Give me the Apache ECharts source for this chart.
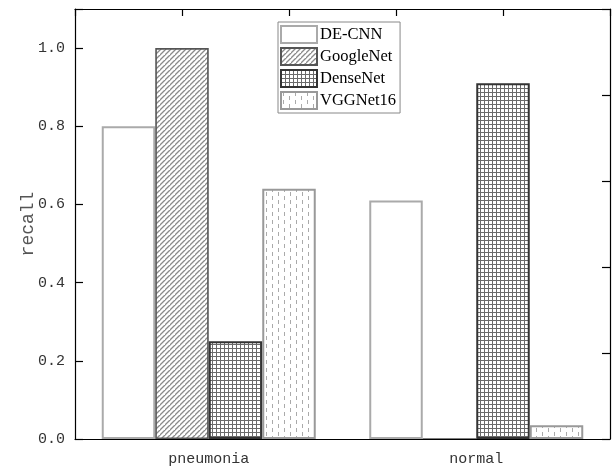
<!DOCTYPE html>
<html>
<head>
<meta charset="utf-8">
<script src="https://cdn.jsdelivr.net/npm/echarts@6/dist/echarts.min.js"></script>
<style>html,body{margin:0;padding:0;background:#fff;}#c{width:614px;height:470px;}</style>
</head>
<body>
<div id="c"></div>
<script>
var categories = ['pneumonia', 'normal'];
var seriesNames = ['DE-CNN', 'GoogleNet', 'DenseNet', 'VGGNet16'];
var deCnn = [0.80, 0.61];
var googleNet = [1.00, 0.0];
var denseNet = [0.25, 0.91];
var vggNet16 = [0.64, 0.035];
var yTicks = [0, 0.2, 0.4, 0.6, 0.8, 1.0];

function makePattern(w, h, draw) {
  var c = document.createElement('canvas');
  c.width = w; c.height = h;
  var ctx = c.getContext('2d');
  ctx.fillStyle = '#fff';
  ctx.fillRect(0, 0, w, h);
  draw(ctx, w, h);
  return { image: c, repeat: 'repeat' };
}
var hatch = makePattern(5, 5, function (ctx, w, h) {
  ctx.strokeStyle = '#8a8a8a';
  ctx.lineWidth = 1.3;
  ctx.beginPath();
  ctx.moveTo(-1, h + 1); ctx.lineTo(w + 1, -1);
  ctx.moveTo(-1 - w, h + 1); ctx.lineTo(1, -1);
  ctx.moveTo(w - 1, 2 * h + 1); ctx.lineTo(2 * w + 1, h - 1);
  ctx.stroke();
});
var grid = makePattern(4, 4, function (ctx, w, h) {
  ctx.fillStyle = '#6a6a6a';
  ctx.fillRect(0, 0, 1, h);
  ctx.fillRect(0, 0, w, 1);
});
var dots = makePattern(12, 8, function (ctx, w, h) {
  ctx.fillStyle = '#aaaaaa';
  ctx.fillRect(2, 0, 1, 4);
  ctx.fillRect(8, 4, 1, 4);
});

var chart = echarts.init(document.getElementById('c'), null, { renderer: 'canvas' });
var lineStyle = { color: '#000', width: 1.2 };
chart.setOption({
  animation: false,
  backgroundColor: '#fff',
  grid: { left: 75, right: 4, top: 9, bottom: 31, containLabel: false },
  legend: {
    orient: 'vertical',
    left: 278, top: 22,
    itemWidth: 36, itemHeight: 17, itemGap: 3,
    padding: [3, 4, 3, 2],
    borderColor: '#888', borderWidth: 1,
    backgroundColor: '#fff',
    icon: 'rect',
    textStyle: { fontFamily: 'Liberation Serif', fontSize: 16.5, color: '#000', padding: [0, 0, 0, -2] },
    data: seriesNames
  },
  xAxis: [
    {
      type: 'category', data: categories, position: 'bottom', z: 10,
      axisLine: { onZero: false, lineStyle: lineStyle },
      axisTick: { show: false },
      axisLabel: { fontFamily: 'Liberation Mono', fontSize: 15, color: '#333', margin: 13 },
      splitLine: { show: false }
    },
    {
      type: 'value', position: 'top', min: 0, max: 5, interval: 1, z: 10,
      axisLine: { show: true, onZero: false, lineStyle: lineStyle },
      axisTick: { show: true, inside: true, length: 7, lineStyle: lineStyle },
      axisLabel: { show: false },
      splitLine: { show: false }
    }
  ],
  yAxis: [
    {
      type: 'value', position: 'left', min: 0, max: 1.1, interval: 0.2, z: 10,
      name: 'recall', nameLocation: 'middle', nameGap: 38, nameRotate: 90, nameMoveOverlap: false,
      nameTextStyle: { fontFamily: 'Liberation Mono', fontSize: 18, color: '#555' },
      axisLine: { show: true, onZero: false, lineStyle: lineStyle },
      axisTick: { show: true, inside: true, length: 8, lineStyle: lineStyle },
      axisLabel: {
        fontFamily: 'Liberation Mono', fontSize: 15, color: '#333', margin: 10,
        formatter: function (v) {
          for (var i = 0; i < yTicks.length; i++) { if (Math.abs(v - yTicks[i]) < 1e-6) return yTicks[i].toFixed(1); }
          return '';
        }
      },
      splitLine: { show: false }
    },
    {
      type: 'value', position: 'right', min: 0, max: 5, interval: 1, z: 10,
      axisLine: { show: true, onZero: false, lineStyle: lineStyle },
      axisTick: { show: true, inside: true, length: 8, lineStyle: lineStyle },
      axisLabel: { show: false },
      splitLine: { show: false }
    }
  ],
  series: [
    { name: 'DE-CNN', type: 'bar', data: deCnn, barGap: '0%', barCategoryGap: '20%',
      itemStyle: { color: '#fff', borderColor: '#aaaaaa', borderWidth: 2 } },
    { name: 'GoogleNet', type: 'bar', data: googleNet, barGap: '0%', barCategoryGap: '20%',
      itemStyle: { color: hatch, borderColor: '#555', borderWidth: 1.6 } },
    { name: 'DenseNet', type: 'bar', data: denseNet, barGap: '0%', barCategoryGap: '20%',
      itemStyle: { color: grid, borderColor: '#333', borderWidth: 2 } },
    { name: 'VGGNet16', type: 'bar', data: vggNet16, barGap: '0%', barCategoryGap: '20%',
      itemStyle: { color: dots, borderColor: '#999', borderWidth: 2 } }
  ]
});
</script>
</body>
</html>
